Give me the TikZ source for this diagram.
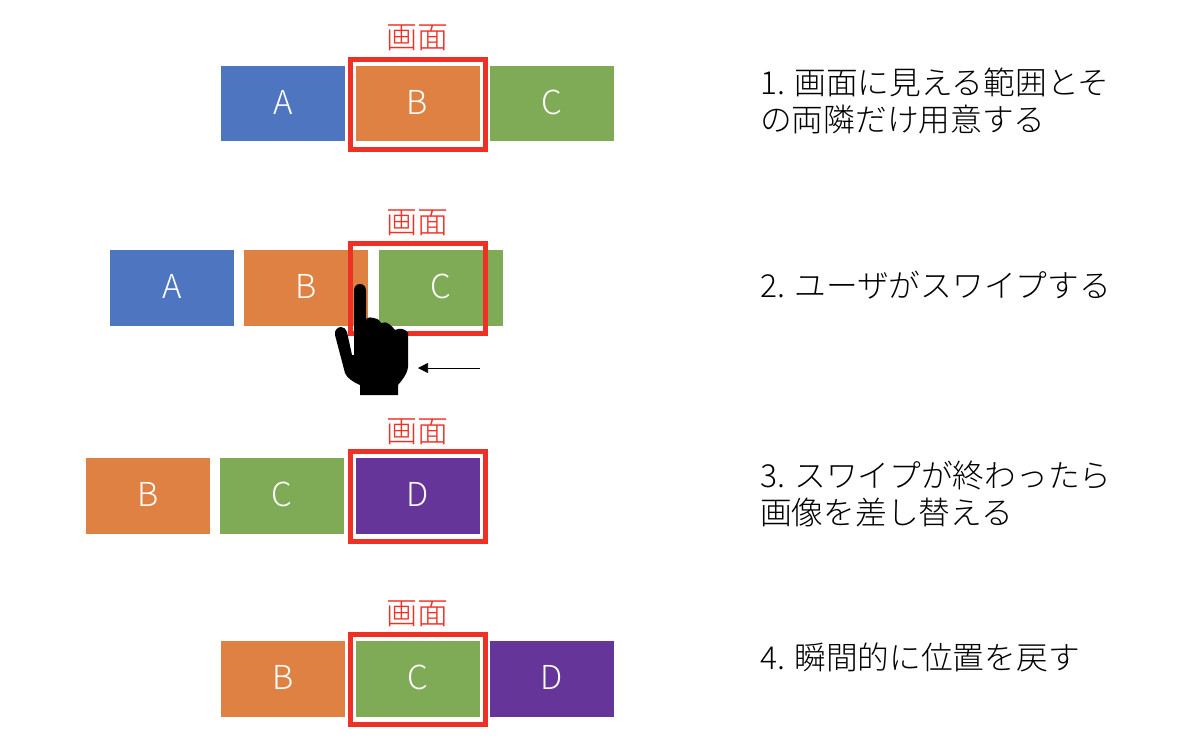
\documentclass[tikz,border=0pt]{standalone}
\usepackage{fontspec}
\setmainfont{Noto Sans CJK JP Light}
\usetikzlibrary{arrows.meta}
\definecolor{blueblock}{HTML}{4E75C0}
\definecolor{orangeblock}{HTML}{E08144}
\definecolor{greenblock}{HTML}{7FAB56}
\definecolor{purpleblock}{HTML}{65359A}
\definecolor{screenred}{HTML}{EE3124}
\tikzset{
    block/.style={minimum width=124pt,minimum height=75pt,inner sep=0pt,text=white,text depth=3pt,font=\fontsize{33}{33}\selectfont},
    screen/.style={draw=screenred,line width=5pt,minimum width=135pt,minimum height=90pt,inner sep=0pt},
    screenlabel/.style={text=screenred,inner sep=0pt,font=\fontsize{31}{31}\selectfont},
    steptext/.style={anchor=west,align=left,inner sep=0pt,font=\fontsize{31.7}{37}\selectfont}
}
\begin{document}
\begin{tikzpicture}[x=1pt,y=-1pt,>={Triangle[length=10pt,width=10pt]}]
    \useasboundingbox (0,0) rectangle (1200,750);
    % step 1
    \node[block,fill=blueblock] (a1) at (283,103.5) {A};
    \node[block,fill=orangeblock] (b1) at (417.5,103.5) {B};
    \node[block,fill=greenblock] (c1) at (552,103.5) {C};
    \node[screen] (screen1) at (418,104.5) {};
    \node[screenlabel] (label1) at (417,38) {画面};
    \node[steptext] (text1) at (760,101) {1. 画面に見える範囲とそ\\の両隣だけ用意する};
    % step 2
    \node[block,fill=blueblock,minimum height=76pt] (a2) at (172,288) {A};
    \node[block,fill=orangeblock,minimum height=76pt] (b2) at (306,288) {B};
    \node[block,fill=greenblock,minimum height=76pt] (c2) at (441,288) {C};
    \node[screen] (screen2) at (418,288) {};
    \node[screenlabel] (label2) at (417,223) {画面};
    \node[steptext] (text2) at (760,285.5) {2. ユーザがスワイプする};
    \fill (354,291) .. controls (354,287) and (356,284) .. (360,284)
        .. controls (364,284) and (366,287) .. (366,291) -- (366,319)
        .. controls (368,317) and (371,317) .. (374,318)
        .. controls (377,318) and (379,320) .. (381,323)
        .. controls (384,322) and (387,322) .. (389,324)
        .. controls (391,325) and (393,328) .. (395,330)
        .. controls (399,328) and (405,328) .. (408,333) -- (408,367)
        .. controls (407,375) and (402,380) .. (398,385) -- (398,395) -- (360,395) -- (360,385)
        .. controls (353,382) and (347,378) .. (345,373) -- (335,335)
        .. controls (334,330) and (338,327) .. (341,327)
        .. controls (344,327) and (346,329) .. (347,332) -- (352,355) -- (354,355) -- cycle;
    \coordinate (from2) at (480,368);
    \coordinate (to2) at (418,368);
    \draw[->,line width=0.7pt] (from2) -- (to2);
    % step 3
    \node[block,fill=orangeblock,minimum height=76pt] (b3) at (148,496) {B};
    \node[block,fill=greenblock,minimum height=76pt] (c3) at (282,496) {C};
    \node[block,fill=purpleblock,minimum height=76pt] (d3) at (417.5,496) {D};
    \node[screen] (screen3) at (418,496.5) {};
    \node[screenlabel] (label3) at (417,432) {画面};
    \node[steptext] (text3) at (760,493.5) {3. スワイプが終わったら\\画像を差し替える};
    % step 4
    \node[block,fill=orangeblock,minimum height=76pt] (b4) at (283,679) {B};
    \node[block,fill=greenblock,minimum height=76pt] (c4) at (417.5,679) {C};
    \node[block,fill=purpleblock,minimum height=76pt] (d4) at (552,679) {D};
    \node[screen] (screen4) at (418,679) {};
    \node[screenlabel] (label4) at (417,614) {画面};
    \node[steptext] (text4) at (760,657.5) {4. 瞬間的に位置を戻す};
\end{tikzpicture}
\end{document}
